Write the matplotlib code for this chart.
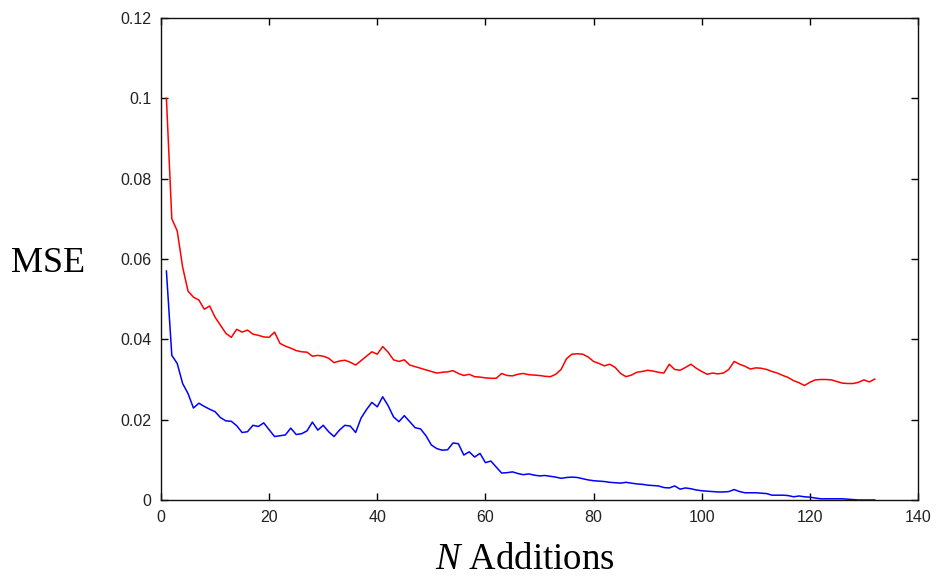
import matplotlib
matplotlib.use("Agg")
import matplotlib.pyplot as plt
import numpy as np

plt.rcParams["mathtext.fontset"] = "custom"
plt.rcParams["mathtext.rm"] = "Liberation Serif"
plt.rcParams["mathtext.it"] = "Liberation Serif:italic"

n_additions = list(range(1, 133))

mse_red = [
    0.100, 0.070, 0.067, 0.058, 0.052, 0.0505, 0.0498, 0.0475, 0.0483, 0.0455,
    0.0435, 0.0415, 0.0405, 0.0425, 0.0418, 0.0423, 0.0413, 0.0410, 0.0406, 0.0405,
    0.0418, 0.0390, 0.0383, 0.0378, 0.0372, 0.0369, 0.0368, 0.0358, 0.0360, 0.0358,
    0.0353, 0.0342, 0.0346, 0.0348, 0.0343, 0.0336, 0.0347, 0.0358, 0.0369, 0.0363,
    0.0382, 0.0368, 0.0349, 0.0345, 0.0349, 0.0336, 0.0332, 0.0328, 0.0324, 0.0320,
    0.0316, 0.0318, 0.0319, 0.0322, 0.0315, 0.0310, 0.0313, 0.0307, 0.0306, 0.0304,
    0.0303, 0.0303, 0.0315, 0.0310, 0.0309, 0.0313, 0.0315, 0.0312, 0.0311, 0.0310,
    0.0308, 0.0307, 0.0313, 0.0325, 0.0352, 0.0363, 0.0364, 0.0363, 0.0356, 0.0345,
    0.0340, 0.0334, 0.0338, 0.0330, 0.0315, 0.0307, 0.0311, 0.0318, 0.0320, 0.0323,
    0.0321, 0.0318, 0.0316, 0.0338, 0.0325, 0.0323, 0.0330, 0.0338, 0.0328, 0.0320,
    0.0313, 0.0316, 0.0314, 0.0316, 0.0325, 0.0345, 0.0338, 0.0333, 0.0326, 0.0329,
    0.0328, 0.0325, 0.0320, 0.0316, 0.0310, 0.0305, 0.0297, 0.0292, 0.0285, 0.0293,
    0.0299, 0.0300, 0.0300, 0.0299, 0.0295, 0.0291, 0.0290, 0.0290, 0.0293, 0.0299,
    0.0294, 0.0301,
]

mse_blue = [
    0.057, 0.036, 0.034, 0.029, 0.0265, 0.0229, 0.0241, 0.0233, 0.0226, 0.0220,
    0.0205, 0.0197, 0.0196, 0.0185, 0.0168, 0.0170, 0.0186, 0.0183, 0.0192, 0.0175,
    0.0158, 0.0160, 0.0162, 0.0179, 0.0163, 0.0165, 0.0172, 0.0194, 0.0174, 0.0186,
    0.0170, 0.0158, 0.0174, 0.0186, 0.0184, 0.0168, 0.0204, 0.0225, 0.0243, 0.0232,
    0.0257, 0.0235, 0.0207, 0.0195, 0.0210, 0.0195, 0.0180, 0.0177, 0.0160, 0.0137,
    0.0128, 0.0124, 0.0125, 0.0142, 0.0140, 0.0112, 0.0120, 0.0107, 0.0116, 0.0093,
    0.0097, 0.0082, 0.0067, 0.0068, 0.0070, 0.0066, 0.0063, 0.0065, 0.0062, 0.0060,
    0.0061, 0.0059, 0.0057, 0.0054, 0.0056, 0.0057, 0.0056, 0.0053, 0.0050, 0.0048,
    0.0047, 0.0046, 0.0044, 0.0043, 0.0042, 0.0044, 0.0042, 0.0040, 0.0039, 0.0037,
    0.0036, 0.0035, 0.0031, 0.0030, 0.0035, 0.0027, 0.0030, 0.0028, 0.0025, 0.0023,
    0.0022, 0.0021, 0.0020, 0.0020, 0.0021, 0.0026, 0.0021, 0.0018, 0.0018, 0.0018,
    0.0017, 0.0016, 0.0012, 0.0012, 0.0012, 0.0011, 0.0008, 0.0010, 0.0008, 0.0007,
    0.0005, 0.0003, 0.0003, 0.0003, 0.0003, 0.0003, 0.0002, 0.0001, 0.0000, 0.0000,
    0.0000, 0.0000,
]

x_ticks = [0, 20, 40, 60, 80, 100, 120, 140]
y_ticks = [0, 0.02, 0.04, 0.06, 0.08, 0.1, 0.12]
y_tick_labels = ["0", "0.02", "0.04", "0.06", "0.08", "0.1", "0.12"]

fig = plt.figure(figsize=(9.38, 5.77), dpi=100)
ax = fig.add_axes([161 / 938, 77 / 577, 757 / 938, 482 / 577])

ax.plot(n_additions, mse_red, color="#ff0000", lw=1.1)
ax.plot(n_additions, mse_blue, color="#0000ff", lw=1.1)

ax.set_xlim(0, 140)
ax.set_ylim(0, 0.12)
ax.set_xticks(x_ticks)
ax.set_yticks(y_ticks)
ax.set_yticklabels(y_tick_labels)

ax.tick_params(direction="in", length=5, width=1, top=True, right=True,
               labelsize=11.5, labelcolor="#222222", pad=7)
for lab in ax.get_xticklabels() + ax.get_yticklabels():
    lab.set_family("Liberation Sans")
for sp in ax.spines.values():
    sp.set_linewidth(1.0)
    sp.set_color("#111111")

fig.text(48 / 938, 1 - 264 / 577, "MSE", family="Liberation Serif",
         fontsize=26, ha="center", va="center")
fig.text(525 / 938, 1 - 569 / 577, r"$\mathit{N}$ Additions", family="Liberation Serif",
         fontsize=26.5, ha="center", va="baseline")

fig.savefig("out.png", dpi=100)
